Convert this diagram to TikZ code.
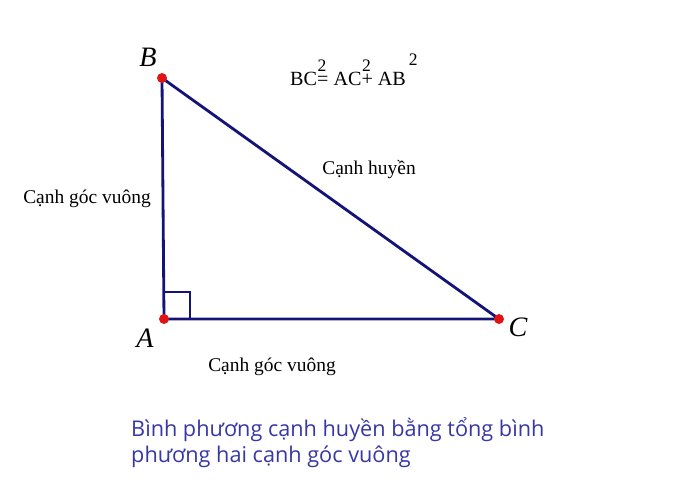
\documentclass[tikz,border=0pt]{standalone}
\usepackage{fontspec}
\setmainfont{Liberation Serif}
\newfontfamily\notefont{Open Sans}
\usetikzlibrary{positioning}
\definecolor{edgeblue}{RGB}{20,20,120}
\definecolor{dotred}{RGB}{225,20,20}
\definecolor{noteblue}{RGB}{55,55,165}
\newcommand{\sqr}[1][0.68em]{\rlap{\kern0.5pt\raisebox{#1}{\fontsize{15}{15}\selectfont 2}}}

\begin{document}
\begin{tikzpicture}[x=0.03cm,y=-0.03cm]
    \tikzstyle{side}=[draw=edgeblue,line width=2.4pt]
    \tikzstyle{vtx}=[circle,fill=dotred,inner sep=0pt,minimum size=8.5pt]
    \tikzstyle{ptname}=[font=\fontsize{24}{26}\selectfont\itshape]
    \tikzstyle{txt}=[font=\fontsize{16.6}{19}\selectfont,inner sep=0pt]
    \tikzstyle{note}=[font=\notefont\fontsize{18.5}{22.5}\selectfont,text=noteblue,align=left,inner sep=0pt]

    \useasboundingbox (0,0) rectangle (692,496);

    \coordinate (A) at (164,319);
    \coordinate (B) at (162,78);
    \coordinate (C) at (499,319);

    \draw[side] (A) -- (B) -- (C) -- cycle;
    \draw[draw=edgeblue,line width=2.2pt] (164,292) -- (190,292) -- (190,319);

    \node[vtx](dotA) at (A){};
    \node[vtx](dotB) at (B){};
    \node[vtx](dotC) at (C){};

    \node[ptname](nameB) at (148,57){B};
    \node[ptname](nameA) at (145,338){A};
    \node[ptname](nameC) at (518,327){C};

    \node[txt,font=\fontsize{17.2}{19}\selectfont,anchor=base west](pyth) at (290,85){BC\sqr= AC\sqr+ AB\kern2pt\sqr[0.95em]};

    \node[txt](hyp) at (369,170){Cạnh huyền};
    \node[txt](legAB) at (87,199){Cạnh góc vuông};
    \node[txt](legAC) at (272,367){Cạnh góc vuông};

    \node[note,anchor=north west](theorem) at (131,417){Bình phương cạnh huyền bằng tổng bình\\phương hai cạnh góc vuông};
\end{tikzpicture}
\end{document}
